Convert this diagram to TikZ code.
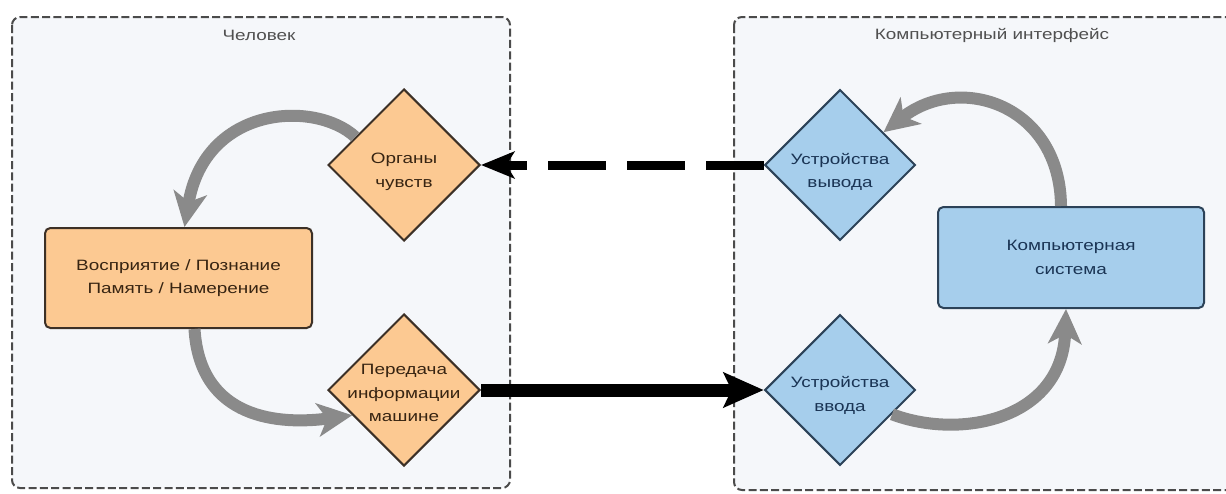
\documentclass[tikz,border=0pt]{standalone}
\usepackage{fontspec}
\setmainfont[FakeStretch=1.26]{Liberation Sans}
\usetikzlibrary{shapes.geometric,arrows.meta,calc}
\definecolor{peach}{RGB}{252,201,146}
\definecolor{peachline}{RGB}{60,48,38}
\definecolor{peachtext}{RGB}{55,36,18}
\definecolor{skyb}{RGB}{166,206,236}
\definecolor{skyline}{RGB}{44,66,88}
\definecolor{skytext}{RGB}{26,52,84}
\definecolor{panel}{RGB}{245,247,250}
\definecolor{panelline}{RGB}{75,75,75}
\definecolor{graya}{RGB}{138,138,138}
\definecolor{titletext}{RGB}{80,80,80}
\tikzset{
  txt/.style={font=\fontsize{11.25}{17.6}\selectfont, align=center},
  panelbox/.style={draw=panelline, fill=panel, line width=1.5pt, dash pattern=on 6pt off 2.5pt, rounded corners=6pt},
  paneltitle/.style={txt, text=titletext},
  orect/.style={draw=peachline, fill=peach, line width=1.5pt, rounded corners=4pt, txt, text=peachtext, minimum width=200.25pt, minimum height=75pt, inner sep=0pt},
  brect/.style={draw=skyline, fill=skyb, line width=1.5pt, rounded corners=4pt, txt, text=skytext, minimum width=199.5pt, minimum height=75.75pt, inner sep=0pt},
  odiam/.style={diamond, draw=peachline, fill=peach, line width=1.5pt, inner sep=0pt, minimum width=114pt, minimum height=114pt},
  bdiam/.style={diamond, draw=skyline, fill=skyb, line width=1.5pt, inner sep=0pt, minimum width=113pt, minimum height=113pt},
  otext/.style={txt, text=peachtext},
  btext/.style={txt, text=skytext},
  flow/.style={draw=graya, line width=9pt, -{Stealth[length=26pt, width=25pt, inset=7pt]}},
  sendarrow/.style={draw=black, line width=9.75pt, -{Stealth[length=30pt, width=26pt, inset=6pt]}},
  backarrow/.style={draw=black, line width=6.75pt, dash pattern=on 43.5pt off 15.75pt, -{Stealth[length=25pt, width=20pt, inset=6pt]}}
}
\begin{document}
\begin{tikzpicture}[x=0.75pt, y=-0.75pt]
\useasboundingbox (0,0) rectangle (1226,493);
\clip (0,0) rectangle (1226,493);
\fill[white] (0,0) rectangle (1226,493);

% panels
\draw[panelbox] (12,17) rectangle (510,488);
\draw[panelbox] (734,17) rectangle (1245,490);
\node[paneltitle] (human) at (259,35) {Человек};
\node[paneltitle] (iface) at (992,35) {Компьютерный интерфейс};

% nodes
\node[orect] (percep) at (178.5,278) {Восприятие / Познание\\Память / Намерение};
\node[odiam, label={[otext, yshift=-5pt]center:Органы\\чувств}] (org) at (404,165) {};
\node[odiam, label={[otext, yshift=-2.5pt]center:Передача\\информации\\машине}] (trans) at (404,390) {};
\node[bdiam, label={[btext, yshift=-5pt]center:Устройства\\вывода}] (outdev) at (840,165) {};
\node[bdiam, label={[btext, yshift=-4pt]center:Устройства\\ввода}] (indev) at (840,390) {};
\node[brect] (comp) at (1071,257.5) {Компьютерная\\система};

% gray flows
\draw[flow] (org.150) .. controls (315,100) and (205,105) .. ($(percep.north)+(6,0)$);
\draw[flow] ($(percep.south)+(16,0)$) .. controls (200,420) and (280,425) .. (trans.206);
\draw[flow] (indev.335) .. controls (960,440) and (1062,420) .. ($(comp.south)+(-5,0)$);
\draw[flow] ($(comp.north)+(-10,0)$) .. controls (1060,105) and (960,72) .. (outdev.37);

% black connectors
\draw[sendarrow] (trans.east) -- (indev.west);
\draw[backarrow] (outdev.west) -- (org.east);
\end{tikzpicture}
\end{document}
